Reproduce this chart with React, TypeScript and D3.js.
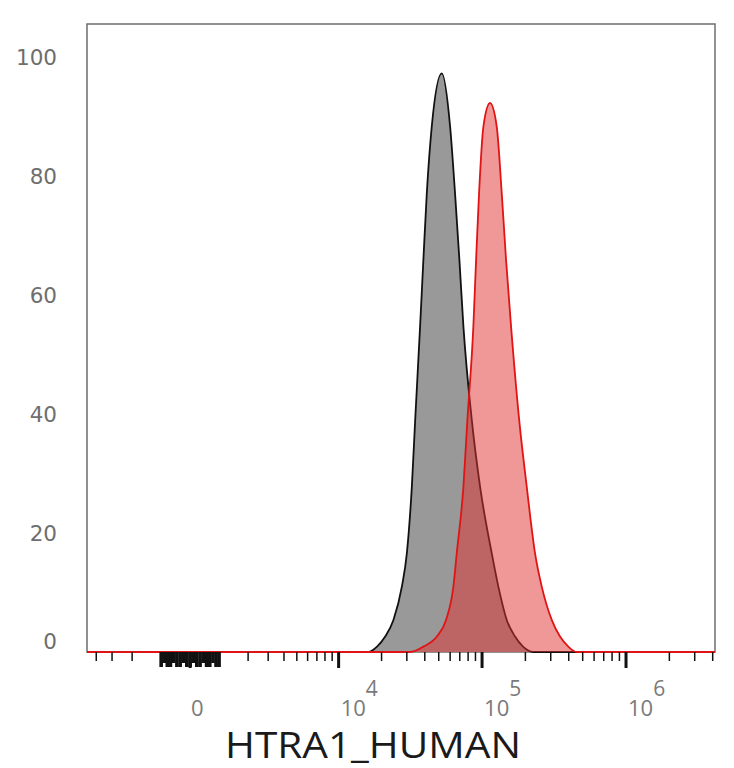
import * as d3 from 'd3'

// histogram outlines (intensity, % of max)
const grayX = [16200, 18600, 21200, 24200, 27700, 30000, 32500, 34300, 37100, 39100, 41300, 44700, 52500,
  60000, 64900, 69600, 74200, 84800, 96900, 116800, 129800, 148400, 169500, 192700, 226100]
const grayY = [0, 0.9, 2.6, 5.4, 11.0, 16.6, 27.8, 39.1, 54.8, 66.0, 77.2, 88.4, 97.4,
  88.4, 77.2, 66.0, 54.8, 39.1, 27.8, 16.6, 11.0, 5.4, 2.6, 0.9, 0]

const redX = [31600, 39100, 48500, 56200, 63200, 66700, 74200, 79100, 87000, 90900, 95300, 102100, 113600,
  126500, 137000, 146800, 159000, 181000, 204400, 233400, 259800, 304800, 348000, 397500, 454600]
const redY = [0, 0.9, 2.6, 5.4, 11.0, 16.6, 27.8, 39.1, 54.8, 66.0, 77.2, 88.4, 92.4,
  88.4, 77.2, 66.0, 54.8, 39.1, 27.8, 16.6, 11.0, 5.4, 2.6, 0.9, 0]

const yTicks = [0, 20, 40, 60, 80, 100]
const xLabelValues = [0, 1e4, 1e5, 1e6]
const xLabelBases = ['0', '10', '10', '10']
const xLabelExps = ['', '4', '5', '6']
const xMajor = [0, 1e4, 1e5, 1e6]
const xMinor = [
  -5000, -4000, -3000, -2000,
  2000, 3000, 4000, 5000, 6000, 7000, 8000, 9000,
  20000, 30000, 40000, 50000, 60000, 70000, 80000, 90000,
  200000, 300000, 400000, 500000, 600000, 700000, 800000, 900000,
  2e6, 3e6, 4e6,
]
const xLinear = d3.range(-900, 901, 100)
const xTitle = 'HTRA1_HUMAN'

// biexponential-ish display transform
const W = 938
const T = (v: number) => Math.asinh(v / (2 * W)) / Math.LN10

const left = 87, right = 715, top = 24, bottom = 652

export default function App() {
  const [d0, d1] = [-4700, 4.15e6]
  const lin = d3.scaleLinear().domain([T(d0), T(d1)]).range([left, right])
  const x = (v: number) => lin(T(v))
  const y = d3.scaleLinear().domain([0, 105.7]).range([bottom, top])

  const series = (xs: number[], ys: number[]) =>
    [[d0, 0] as [number, number], ...xs.map((v, i) => [v, ys[i]] as [number, number]), [d1, 0] as [number, number]]

  const area = d3.area<[number, number]>()
    .x(d => x(d[0])).y0(y(0)).y1(d => y(d[1])).curve(d3.curveMonotoneX)
  const line = d3.line<[number, number]>()
    .x(d => x(d[0])).y(d => y(d[1])).curve(d3.curveMonotoneX)

  const gray = series(grayX, grayY)
  const red = series(redX, redY)
  const inside = (v: number) => x(v) >= left && x(v) <= right

  return (
    <svg width={734} height={768} style={{ position: 'absolute', left: 0, top: 0, background: '#fff' }}>
      <defs>
        <clipPath id="plot">
          <rect x={left} y={top - 2} width={right - left} height={bottom - top + 3} />
        </clipPath>
      </defs>
      <rect x={left} y={top} width={right - left} height={bottom - top} fill="#fff" stroke="#6e6e6e" strokeWidth={1.5} />

      <g clipPath="url(#plot)">
        <path d={area(gray) ?? ''} fill="#999999" />
        <path d={line(gray) ?? ''} fill="none" stroke="#111" strokeWidth={1.8} />
        <path d={area(red) ?? ''} fill="rgba(226,48,48,0.5)" />
        <path d={line(red) ?? ''} fill="none" stroke="#e01414" strokeWidth={1.8} />
      </g>

      {/* x ticks */}
      <g stroke="#111">
        {xMinor.filter(inside).map(v => (
          <line key={'m' + v} x1={x(v)} x2={x(v)} y1={bottom} y2={bottom + 9} strokeWidth={1.5} />
        ))}
        {xLinear.map((v, i) => (
          <line key={'l' + v} x1={x(v)} x2={x(v)} y1={bottom} y2={bottom + (i % 3 === 1 ? 11 : 15)} strokeWidth={3.6} />
        ))}
        {xMajor.map(v => (
          <line key={'M' + v} x1={x(v)} x2={x(v)} y1={bottom} y2={bottom + 16} strokeWidth={3} />
        ))}
      </g>

      {/* x tick labels */}
      <g fontFamily="'Open Sans', sans-serif" fill="#7a7a7a" fontSize={22}>
        {xLabelValues.map((v, i) => (
          <text key={v} x={x(v) + (v === 0 ? 1 : 2)} y={716}>
            {xLabelBases[i]}
            {xLabelExps[i] && <tspan dy={-20} fontSize={21}>{xLabelExps[i]}</tspan>}
          </text>
        ))}
      </g>

      {/* y tick labels */}
      <g fontFamily="'DejaVu Sans', sans-serif" fill="#6e6e6e" fontSize={21.5} textAnchor="end">
        {yTicks.map(v => (
          <text key={v} x={57} y={y(v) + (v === 0 ? -11 : 0)} dominantBaseline="central">{v}</text>
        ))}
      </g>

      <text x={373} y={758} textAnchor="middle" fontFamily="'Open Sans', sans-serif" fontSize={36}
        fill="#1a1a1a" textLength={296} lengthAdjust="spacingAndGlyphs">{xTitle}</text>
    </svg>
  )
}
